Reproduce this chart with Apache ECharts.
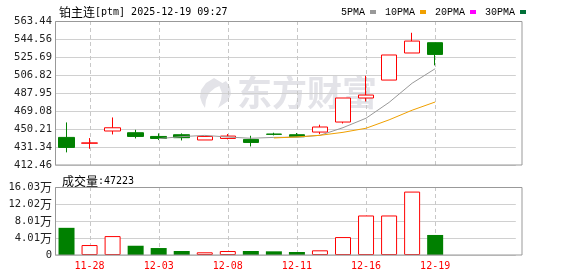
<!DOCTYPE html>
<html><head><meta charset="utf-8">
<script src="https://cdn.jsdelivr.net/npm/echarts@6/dist/echarts.min.js"></script>
<style>html,body{margin:0;padding:0;background:#fff}#c{width:578px;height:276px}</style>
</head><body><div id="c"></div>
<script>
// ---- data ----
const dates = ['11-27','11-28','12-01','12-02','12-03','12-04','12-05','12-08','12-09','12-10','12-11','12-12','12-15','12-16','12-17','12-18','12-19'];
const opens  = [441.4,435.3,448.1,446.3,442.4,444.2,438.7,440.3,439.3,444.9,444.2,447.0,457.5,482.7,501.5,529.9,540.7];
const closes = [430.9,435.6,451.5,442.4,440.3,441.1,442.4,442.8,436.1,444.6,442.1,452.3,482.7,485.8,527.8,542.4,528.4];
const lows   = [425.7,429.5,444.5,440.3,438.6,438.2,438.7,439.3,431.9,443.5,441.8,444.9,456.0,479.1,501.5,529.9,516.9];
const highs  = [457.1,440.7,462.3,449.4,445.6,445.6,442.4,444.9,443.1,446.3,446.0,454.7,482.7,506.0,527.8,551.1,540.7];
const ma5  = ['-','-','-','-',440.1,442.2,443.5,441.8,440.5,441.4,441.6,443.6,451.6,461.5,478.1,498.2,513.4];
const ma10 = ['-','-','-','-','-','-','-','-','-',440.8,441.9,443.6,446.7,451.0,459.8,469.9,478.5];
const ma20 = [];
const ma30 = [];
const volumes = [64070,23470,44590,21830,16430,9390,6340,9390,9390,8680,7040,11030,42250,93170,93170,149500,47223];
const priceTicks = ['412.46','431.34','450.21','469.08','487.95','506.82','525.69','544.56','563.44'];
const volTicks = ['0','4.01','8.01','12.02','16.03'];
const markedDates = ['11-28','12-03','12-08','12-11','12-16','12-19'];
const padSlots = ['', '', ''];
const lastVolume = 47223;

const cats = dates.concat(padSlots);
const mono = "'DejaVu Sans Mono', monospace";
const cjk = "'Noto Sans CJK SC', sans-serif";
const pMin = 412.46, pMax = 563.44, pInt = (pMax - pMin) / 8;
const vMax = 160300, vInt = vMax / 4;
const L = 55, W = 460.8;

const chart = echarts.init(document.getElementById('c'));
const richTitle = { a: { fontFamily: cjk, fontSize: 12, color: '#000', fontWeight: 'normal' }, b: { fontFamily: mono, fontSize: 10, color: '#000', fontWeight: 'normal' } };
chart.setOption({
  animation: false,
  backgroundColor: '#fff',
  title: [
    { text: '{a|铂主连}{b|[ptm] 2025-12-19 09:27}', left: 54, top: 1, textStyle: { fontWeight: 'normal', rich: richTitle } },
    { text: '{a|成交量}{b|:' + lastVolume + '}', left: 57, top: 170, textStyle: { fontWeight: 'normal', rich: richTitle } }
  ],
  legend: {
    data: ['5PMA','10PMA','20PMA','30PMA'], left: 336, top: 2, align: 'right',
    icon: 'rect', itemWidth: 6, itemHeight: 4, itemGap: 9, selectedMode: false,
    textStyle: { fontFamily: "'Liberation Mono', monospace", fontSize: 10, color: '#000' }
  },
  grid: [
    { left: L, top: 21, width: W, height: 144 },
    { left: L, top: 187, width: W, height: 68 }
  ],
  xAxis: [
    { type: 'category', gridIndex: 0, data: cats, axisLine: { show: false }, axisTick: { show: false }, axisLabel: { show: false }, splitLine: { show: false } },
    { type: 'category', gridIndex: 1, data: cats, axisLine: { show: false }, axisTick: { show: false }, splitLine: { show: false },
      axisLabel: { color: '#ff0000', fontFamily: mono, fontSize: 10, margin: 6, interval: (i, v) => markedDates.includes(v) } }
  ],
  yAxis: [
    { type: 'value', gridIndex: 0, min: pMin, max: pMax, interval: pInt, axisLine: { show: false }, axisTick: { show: false },
      splitLine: { lineStyle: { color: '#d0d0d0' } },
      axisLabel: { color: '#222', fontFamily: mono, fontSize: 10.5, margin: 3,
        formatter: v => priceTicks[Math.round((v - pMin) / pInt)] } },
    { type: 'value', gridIndex: 1, min: 0, max: vMax, interval: vInt, axisLine: { show: false }, axisTick: { show: false },
      splitLine: { lineStyle: { color: '#d0d0d0' } },
      axisLabel: { margin: 3,
        formatter: v => { const i = Math.round(v / vInt); return i === 0 ? '{n|0}' : '{n|' + volTicks[i] + '}{w|万}'; },
        rich: { n: { color: '#222', fontFamily: mono, fontSize: 10.5 }, w: { color: '#222', fontFamily: cjk, fontSize: 12 } } } }
  ],
  series: [
    { type: 'candlestick', xAxisIndex: 0, yAxisIndex: 0, z: 3, barWidth: 16,
      data: dates.map((d, i) => [opens[i], closes[i], lows[i], highs[i]]),
      itemStyle: { color: '#ffffff', color0: '#008000', borderColor: '#ff0000', borderColor0: '#008000', borderColorDoji: '#ff0000', borderWidth: 1 } },
    { name: '5PMA', type: 'line', xAxisIndex: 0, yAxisIndex: 0, z: 4, data: ma5, showSymbol: false, color: '#999999', lineStyle: { width: 1 } },
    { name: '10PMA', type: 'line', xAxisIndex: 0, yAxisIndex: 0, z: 4, data: ma10, showSymbol: false, color: '#f0a000', lineStyle: { width: 1 } },
    { name: '20PMA', type: 'line', xAxisIndex: 0, yAxisIndex: 0, z: 4, data: ma20, showSymbol: false, color: '#ff00ff', lineStyle: { width: 1 } },
    { name: '30PMA', type: 'line', xAxisIndex: 0, yAxisIndex: 0, z: 4, data: ma30, showSymbol: false, color: '#007038', lineStyle: { width: 1 } },
    { type: 'bar', xAxisIndex: 1, yAxisIndex: 1, z: 3, barWidth: 16,
      data: volumes.map((v, i) => ({ value: v, itemStyle: closes[i] >= opens[i]
        ? { color: '#ffffff', borderColor: '#ff0000', borderWidth: 1 }
        : { color: '#008000' } })) }
  ]
});

// vertical dashed guides at the labelled dates, positioned through the axis scale
const guides = [];
markedDates.forEach(d => {
  const idx = cats.indexOf(d);
  let px = chart.convertToPixel({ xAxisIndex: 0 }, idx);
  if (Array.isArray(px)) px = px[0];
  if (typeof px !== 'number' || isNaN(px)) px = L + (idx + 0.5) * W / cats.length;
  const x = Math.round(px) + 0.5;
  const y0a = chart.convertToPixel({ yAxisIndex: 0 }, pMax), y1a = chart.convertToPixel({ yAxisIndex: 0 }, pMin);
  const y0b = chart.convertToPixel({ yAxisIndex: 1 }, vMax), y1b = chart.convertToPixel({ yAxisIndex: 1 }, 0);
  guides.push({ type: 'line', z: 1, silent: true, shape: { x1: x, y1: isNaN(y0a) ? 21 : y0a, x2: x, y2: isNaN(y1a) ? 165 : y1a }, style: { stroke: '#c8c8c8', lineWidth: 1, lineDash: [4, 3] } });
  guides.push({ type: 'line', z: 1, silent: true, shape: { x1: x, y1: isNaN(y0b) ? 187 : y0b, x2: x, y2: isNaN(y1b) ? 255 : y1b }, style: { stroke: '#c8c8c8', lineWidth: 1, lineDash: [4, 3] } });
});

chart.setOption({
  graphic: [
    { type: 'text', z: -1, silent: true, style: { x: 237, y: 75, text: '东方财富', fill: '#e3e3e8', font: 'bold 35px "Noto Sans CJK SC"' } },
    { type: 'polygon', z: -1, silent: true, shape: { points: [[214,78],[206,83],[201,90],[200,97],[202,103],[205,108],[206,100],[209,93],[215,88],[224,84]] }, style: { fill: '#e3e3e8' } },
    { type: 'polygon', z: -1, silent: true, shape: { points: [[226,81],[230,87],[231,94],[228,101],[218,108],[221,100],[222,93],[219,85]] }, style: { fill: '#e3e3e8' } },
    { type: 'rect', z: 10, silent: true, shape: { x: 55.5, y: 21.5, width: 466.5, height: 143.5 }, style: { fill: 'none', stroke: '#999', lineWidth: 1 } },
    { type: 'rect', z: 10, silent: true, shape: { x: 55.5, y: 187.5, width: 466.5, height: 67.5 }, style: { fill: 'none', stroke: '#999', lineWidth: 1 } }
  ].concat(guides)
});
</script></body></html>
